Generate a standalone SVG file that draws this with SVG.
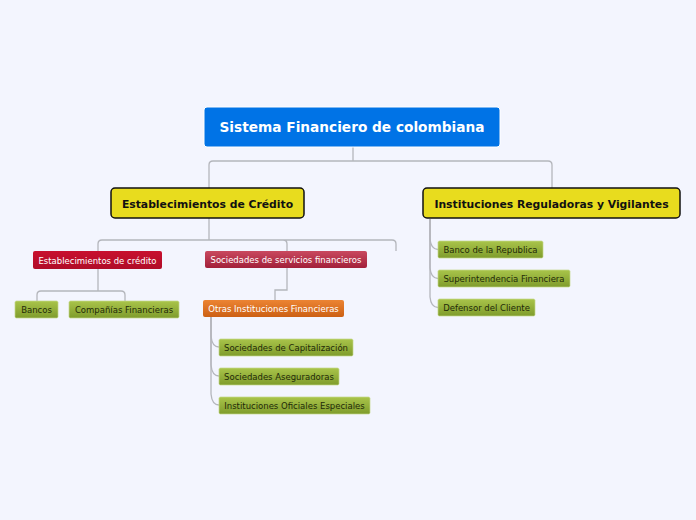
<svg xmlns="http://www.w3.org/2000/svg" width="696" height="520" viewBox="0 0 696 520">
<defs>
<linearGradient id="gGreen" x1="0" y1="0" x2="0" y2="1"><stop offset="0" stop-color="#a9c44a"/><stop offset="1" stop-color="#7f9c2c"/></linearGradient>
<linearGradient id="gRed" x1="0" y1="0" x2="0" y2="1"><stop offset="0" stop-color="#c8102e"/><stop offset="1" stop-color="#b00c28"/></linearGradient>
<linearGradient id="gRose" x1="0" y1="0" x2="0" y2="1"><stop offset="0" stop-color="#c9495f"/><stop offset="1" stop-color="#a2203a"/></linearGradient>
<linearGradient id="gOrange" x1="0" y1="0" x2="0" y2="1"><stop offset="0" stop-color="#ec8433"/><stop offset="1" stop-color="#cc6014"/></linearGradient>
</defs>
<style>
text{font-family:"DejaVu Sans","Verdana",sans-serif;text-anchor:middle;dominant-baseline:central}
.conn path{fill:none;stroke:#b4b6bc;stroke-width:1.3}
.root rect{fill:#0073e6;stroke:#ffffff;stroke-width:1}
.root text{fill:#ffffff;font-weight:bold;font-size:13.7px}
.main rect{fill:#e8dc1e;stroke:#111111;stroke-width:1.5}
.main text{fill:#111111;font-weight:bold;font-size:10.8px}
.leaf rect{fill:url(#gGreen);stroke:#c4d88a;stroke-width:0.7}
.leaf text{fill:#1f2a08;font-size:8.5px}
.red rect{fill:url(#gRed)}
.rose rect{fill:url(#gRose)}
.orange rect{fill:url(#gOrange)}
.white text{fill:#ffffff;font-size:8.5px}
</style>
<rect width="696" height="520" fill="#f3f5fe"/>
<g class="conn">
<path d="M353,147 V161 M213,161 H548 Q552,161 552,165 V188 M213,161 Q209,161 209,165 V188"/>
<path d="M209,218 V240 M102,240 H392 Q396,240 396,244 V251 M102,240 Q98,240 98,244 V251 M283,240 Q287,240 287,244 V251"/>
<path d="M98,269 V291 M41,291 H121 Q125,291 125,295 V301 M41,291 Q37,291 37,295 V301"/>
<path d="M287,268 V290 H275 V300"/>
<path d="M211,317 V336 Q212,347 219,347"/>
<path d="M211,317 V365 Q212,376 219,376"/>
<path d="M211,317 V394 Q212,405 219,405"/>
<path d="M430,219 V239 Q431,249.5 438,249.5"/>
<path d="M430,219 V268 Q431,278.5 438,278.5"/>
<path d="M430,219 V297 Q431,307.5 438,307.5"/>
</g>
<g id="root" class="root"><rect x="204" y="107" width="296" height="40" rx="3"/><text x="352" y="127">Sistema Financiero de colombiana</text></g>
<g id="estab" class="main"><rect x="111" y="188" width="193" height="30" rx="4"/><text x="207.5" y="204">Establecimientos de Crédito</text></g>
<g id="instreg" class="main"><rect x="423" y="188" width="257" height="30" rx="4"/><text x="551.5" y="204">Instituciones Reguladoras y Vigilantes</text></g>
<g id="estabcred" class="red white"><rect x="33" y="251" width="129" height="18" rx="2"/><text x="97.5" y="260.5">Establecimientos de crédito</text></g>
<g id="socserv" class="rose white"><rect x="205" y="251" width="162" height="17" rx="2"/><text x="286" y="259.5">Sociedades de servicios financieros</text></g>
<g id="bancos" class="leaf"><rect x="15" y="301" width="43" height="17" rx="1.5"/><text x="36.5" y="310">Bancos</text></g>
<g id="companias" class="leaf"><rect x="69" y="301" width="110" height="17" rx="1.5"/><text x="124" y="310">Compañías Financieras</text></g>
<g id="otras" class="orange white"><rect x="203" y="300" width="141" height="17" rx="2"/><text x="273.5" y="308.5">Otras Instituciones Financieras</text></g>
<g id="capit" class="leaf"><rect x="219" y="339" width="134" height="17" rx="1.5"/><text x="286" y="347.5">Sociedades de Capitalización</text></g>
<g id="asegur" class="leaf"><rect x="219" y="368" width="120" height="17" rx="1.5"/><text x="279" y="376.5">Sociedades Aseguradoras</text></g>
<g id="oficiales" class="leaf"><rect x="219" y="397" width="151" height="17" rx="1.5"/><text x="294.5" y="405.5">Instituciones Oficiales Especiales</text></g>
<g id="banrep" class="leaf"><rect x="438" y="241" width="105" height="17" rx="1.5"/><text x="490.5" y="249.5">Banco de la Republica</text></g>
<g id="superint" class="leaf"><rect x="438" y="270" width="132" height="17" rx="1.5"/><text x="504" y="278.5">Superintendencia Financiera</text></g>
<g id="defensor" class="leaf"><rect x="438" y="299" width="97" height="17" rx="1.5"/><text x="486.5" y="307.5">Defensor del Cliente</text></g>
</svg>
